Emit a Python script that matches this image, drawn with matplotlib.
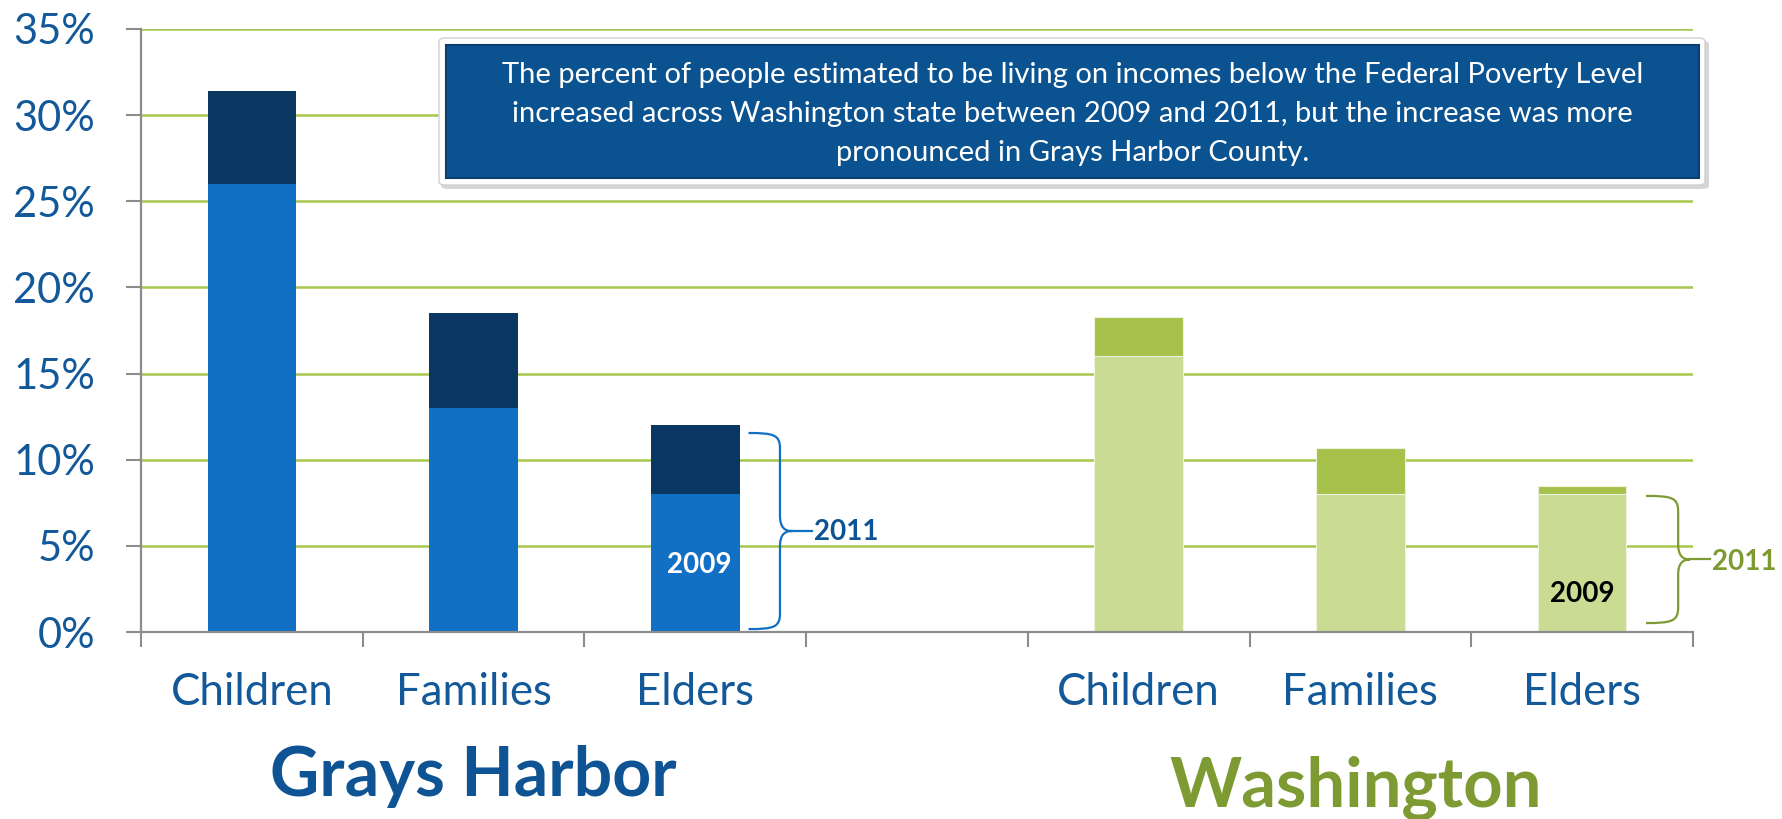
import matplotlib
matplotlib.use("Agg")
import matplotlib.pyplot as plt
from matplotlib.patches import FancyBboxPatch, PathPatch
from matplotlib.path import Path
import matplotlib.transforms as mtransforms
import numpy as np

# ---------------- data ----------------
categories = ["Children", "Families", "Elders"]
groups = ["Grays Harbor", "Washington"]
gh_2009 = [26.0, 13.0, 8.0]
gh_2011 = [31.4, 18.5, 12.0]
wa_2009 = [16.0, 8.0, 8.0]
wa_2011 = [18.3, 10.7, 8.5]
y_ticks = [0, 5, 10, 15, 20, 25, 30, 35]
note_lines = [
    "The percent of people estimated to be living on incomes below the Federal Poverty Level",
    "increased across Washington state between 2009 and 2011, but the increase was more",
    "pronounced in Grays Harbor County.",
]

# ---------------- style ----------------
BLUE_TXT = "#13599A"
GREEN_TXT = "#7E9A33"
GH_LIGHT = "#116FC4"
GH_DARK = "#0A3662"
WA_LIGHT = "#CADB93"
WA_DARK = "#A6C24A"
GRID = "#A6C74C"
AXIS = "#8C8C8C"
FONT = "Lato"

W, H = 1783, 819
fig = plt.figure(figsize=(W / 100, H / 100), dpi=100)
ax = fig.add_axes([141 / W, 1 - 632 / H, (1693 - 141) / W, (632 - 29) / H])

gh_x = np.arange(3)
wa_x = np.arange(3) + 4
bw = 0.40

gh_inc = [b - a for a, b in zip(gh_2009, gh_2011)]
wa_inc = [b - a for a, b in zip(wa_2009, wa_2011)]

ax.bar(gh_x, gh_2009, width=bw, color=GH_LIGHT, zorder=3, linewidth=0)
ax.bar(gh_x, gh_inc, bottom=gh_2009, width=bw, color=GH_DARK, zorder=3, linewidth=0)
ax.bar(wa_x, wa_2009, width=bw, color=WA_LIGHT, zorder=3, edgecolor="#EEF3DD", linewidth=0.8)
ax.bar(wa_x, wa_inc, bottom=wa_2009, width=bw, color=WA_DARK, zorder=3, edgecolor="#EEF3DD", linewidth=0.8)

ax.set_xlim(-0.5, 6.5)
ax.set_ylim(0, 35)
ax.set_yticks(y_ticks)
ax.set_yticklabels([f"{v}%" for v in y_ticks], fontsize=30, color=BLUE_TXT, family=FONT)
for v in y_ticks[1:]:
    ax.axhline(v, color=GRID, lw=1.8, zorder=1)

for s in ["top", "right"]:
    ax.spines[s].set_visible(False)
for s in ["left", "bottom"]:
    ax.spines[s].set_color(AXIS)
    ax.spines[s].set_linewidth(1.6)
    ax.spines[s].set_zorder(4)

ax.tick_params(axis="y", length=11, width=1.5, color=AXIS, pad=22)
ax.set_xticks(np.arange(-0.5, 7.0, 1.0))
ax.set_xticklabels([])
ax.tick_params(axis="x", which="major", length=11, width=1.5, color=AXIS)
ax.set_xticks(np.arange(7), minor=True)
ax.set_xticklabels(categories + [""] + categories, minor=True,
                   fontsize=31.5, color=BLUE_TXT, family=FONT)
ax.tick_params(axis="x", which="minor", length=0, pad=29)

# group titles
trans = mtransforms.blended_transform_factory(ax.transData, fig.transFigure)
ax.text(1, 1 - 796 / H, groups[0], transform=trans, ha="center", va="baseline",
        fontsize=49, fontweight="bold", color="#0E5494", family=FONT, clip_on=False)
ax.text(4.98, 1 - 807 / H, groups[1], transform=trans, ha="center", va="baseline",
        fontsize=49.5, fontweight="bold", color=GREEN_TXT, family=FONT, clip_on=False)


# braces
def brace(x0, xv, xt, xe, ybot, ytop, color):
    ymid = (ybot + ytop) / 2
    r = 0.9   # vertical curvature in y units
    dx = xv - x0
    verts = [
        (x0, ytop), (x0 + dx * 0.8, ytop), (xv, ytop - 0.1), (xv, ytop - r),
        (xv, ymid + r),
        (xv, ymid + 0.2), (xv + (xt - xv) * 0.4, ymid), (xt, ymid),
        (xv + (xt - xv) * 0.4, ymid), (xv, ymid - 0.2), (xv, ymid - r),
        (xv, ybot + r),
        (xv, ybot + 0.1), (x0 + dx * 0.8, ybot), (x0, ybot),
    ]
    codes = [Path.MOVETO, Path.CURVE4, Path.CURVE4, Path.CURVE4,
             Path.LINETO,
             Path.CURVE4, Path.CURVE4, Path.CURVE4,
             Path.CURVE4, Path.CURVE4, Path.CURVE4,
             Path.LINETO,
             Path.CURVE4, Path.CURVE4, Path.CURVE4]
    ax.add_patch(PathPatch(Path(verts, codes), fill=False, edgecolor=color,
                           lw=1.6, clip_on=False, zorder=5))
    ax.plot([xt, xe], [ymid, ymid], color=color, lw=1.6, clip_on=False, zorder=5)


brace(2.24, 2.382, 2.436, 2.527, 0.17, gh_2011[2] - 0.45, GH_LIGHT)
ax.text(2.535, 5.8, "2011", ha="left", va="center", fontsize=20, fontweight="bold",
        color="#0E5494", family=FONT, zorder=6)
ax.text(2.02, 3.9, "2009", ha="center", va="center", fontsize=20, fontweight="bold",
        color="white", family=FONT, zorder=6)

brace(6.288, 6.433, 6.487, 6.577, 0.52, wa_2011[2] - 0.6, "#7E9A33")
ax.text(6.585, 4.05, "2011", ha="left", va="center", fontsize=20, fontweight="bold",
        color=GREEN_TXT, family=FONT, zorder=6, clip_on=False)
ax.text(6.0, 2.2, "2009", ha="center", va="center", fontsize=20, fontweight="bold",
        color="black", family=FONT, zorder=6)

# note box (figure coordinates)
def fx(px):
    return px / W

def fy(py):
    return 1 - py / H

shadow = FancyBboxPatch((fx(441), fy(189)), fx(1709) - fx(441), fy(41) - fy(189),
                        boxstyle="round,pad=0,rounding_size=0.004", transform=fig.transFigure,
                        facecolor="#BBBBBB", edgecolor="none", alpha=0.6, zorder=9)
fig.patches.append(shadow)
outer = FancyBboxPatch((fx(439), fy(185)), fx(1705) - fx(439), fy(38) - fy(185),
                       boxstyle="round,pad=0,rounding_size=0.004", transform=fig.transFigure,
                       facecolor="white", edgecolor="#D0D0D0", lw=1, zorder=10)
fig.patches.append(outer)
inner = FancyBboxPatch((fx(446), fy(178)), fx(1699) - fx(446), fy(45) - fy(178),
                       boxstyle="square,pad=0", transform=fig.transFigure,
                       facecolor="#0B5291", edgecolor="#083E70", lw=1.5, zorder=11)
fig.patches.append(inner)

cx = fx((446 + 1699) / 2)
for i, line in enumerate(note_lines):
    fig.text(cx, fy(83 + 39 * i), line, ha="center", va="baseline", fontsize=21,
             color="white", family=FONT, zorder=12)

fig.savefig("out.png", dpi=100)
